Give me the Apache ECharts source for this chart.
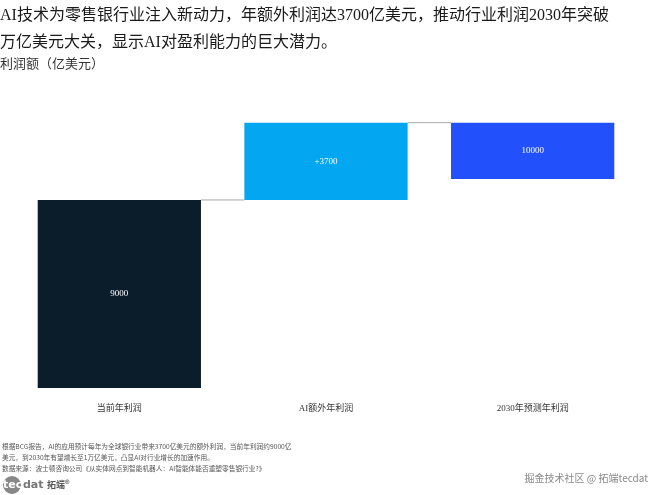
<!DOCTYPE html>
<html><head><meta charset="utf-8">
<script src="https://cdn.jsdelivr.net/npm/echarts@6/dist/echarts.min.js"></script>
<style>html,body{margin:0;padding:0;background:#fff}#c{width:660px;height:495px}</style>
</head><body><div id="c"></div>
<script>
const categories = ['当前年利润', 'AI额外年利润', '2030年预测年利润'];
const baseValues = [0, 9000, 10000];
const barHeights = [9000, 3700, 2700];
const barLabels = ['9000', '+3700', '10000'];
const barColors = ['#0b1c2b', '#03a6f0', '#2250fb'];
const connectorLevels = [9000, 12700];

const chart = echarts.init(document.getElementById('c'));
const serif = "'Liberation Serif','Noto Sans CJK SC',serif";
chart.setOption({
  animation: false,
  title: {
    text: 'AI技术为零售银行业注入新动力，年额外利润达3700亿美元，推动行业利润2030年突破\n万亿美元大关，显示AI对盈利能力的巨大潜力。',
    left: 0, top: 2, padding: [0, 0, 0, 0],
    textStyle: { fontFamily: serif, fontSize: 16, fontWeight: 'normal', color: '#1a1a1a', lineHeight: 27 },
    subtext: '利润额（亿美元）',
    itemGap: 2,
    subtextStyle: { fontFamily: serif, fontSize: 13, color: '#333' }
  },
  grid: { left: 16, right: 24, top: 95.5, bottom: 107 },
  xAxis: {
    type: 'category', data: categories,
    axisLine: { show: false }, axisTick: { show: false },
    axisLabel: { fontFamily: serif, fontSize: 9, color: '#333', margin: 16 }
  },
  yAxis: { type: 'value', min: 0, max: 14000, show: false, splitLine: { show: false } },
  series: [
    { type: 'bar', stack: 'w', data: baseValues, itemStyle: { color: 'transparent' }, barCategoryGap: '21%', silent: true },
    { type: 'bar', stack: 'w', barCategoryGap: '21%',
      data: barHeights.map((v, i) => ({ value: v, itemStyle: { color: barColors[i] } })),
      label: { show: true, position: 'inside', color: '#fff', fontFamily: serif, fontSize: 9,
        formatter: p => barLabels[p.dataIndex] } },
    { type: 'custom', z: 1,
      data: connectorLevels.map((v, i) => [i, v]),
      renderItem: (params, api) => {
        const i = api.value(0), v = api.value(1);
        const p1 = api.coord([i, v]), p2 = api.coord([i + 1, v]);
        const bw = api.size([1, 0])[0] * 0.79;
        return { type: 'line', shape: { x1: p1[0] + bw / 2, y1: p1[1], x2: p2[0] - bw / 2, y2: p2[1] },
          style: { stroke: '#aaaaaa', lineWidth: 1 } };
      } }
  ],
  graphic: [
    { type: 'text', x: 2, y: 441, style: { text: '根据BCG报告，AI的应用预计每年为全球银行业带来3700亿美元的额外利润，当前年利润约9000亿\n美元，到2030年有望增长至1万亿美元，凸显AI对行业增长的加速作用。\n数据来源：波士顿咨询公司《从实体网点到智能机器人：AI智能体能否重塑零售银行业?》',
      font: "6.7px 'Noto Sans CJK SC'", fill: '#555', lineHeight: 11 } },
    { type: 'circle', shape: { cx: 12, cy: 485, r: 9 }, style: { fill: '#888' }, z: 10 },
    { type: 'text', x: 3, y: 485, z: 11, style: { text: 'tec', font: "bold 11px 'DejaVu Sans'", fill: '#fff', verticalAlign: 'middle' } },
    { type: 'text', x: 23, y: 485, z: 11, style: { text: 'dat', font: "bold 11px 'DejaVu Sans'", fill: '#777', verticalAlign: 'middle' } },
    { type: 'text', x: 47, y: 485, z: 11, style: { text: '拓端®', font: "bold 9px 'Noto Sans CJK SC'", fill: '#555', verticalAlign: 'middle' } },
    { type: 'text', x: 648, y: 478, style: { text: '掘金技术社区 @ 拓端tecdat', font: "10px 'Noto Sans CJK SC'", fill: '#888', align: 'right', verticalAlign: 'middle' } }
  ]
});
</script></body></html>
